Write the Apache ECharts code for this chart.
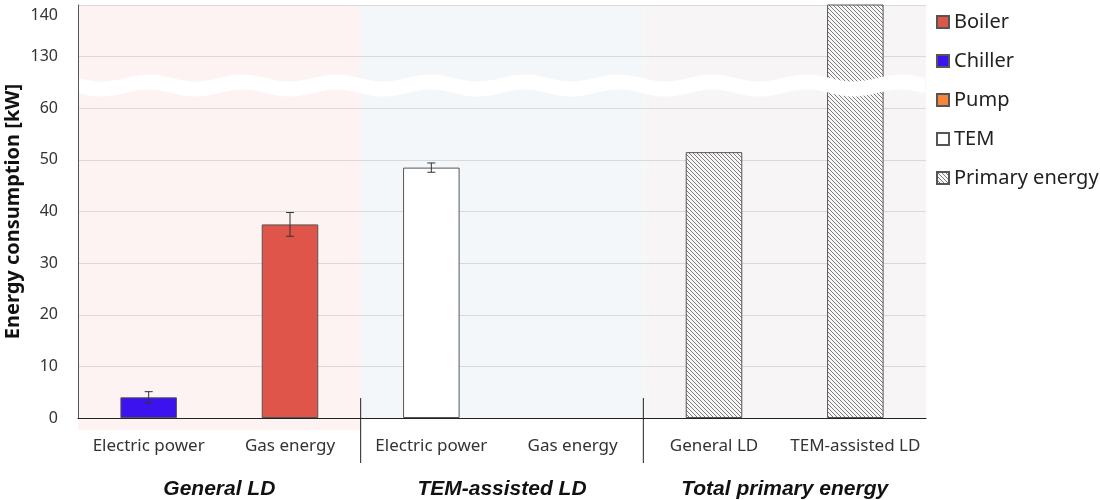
<!DOCTYPE html>
<html>
<head>
<meta charset="utf-8">
<script src="https://cdn.jsdelivr.net/npm/echarts@6/dist/echarts.min.js"></script>
<style>html,body{margin:0;padding:0;background:#fff}#c{width:1100px;height:500px}</style>
</head>
<body>
<div id="c"></div>
<script>
// ---- data ----
const categories = ['Electric power', 'Gas energy', 'Electric power', 'Gas energy', 'General LD', 'TEM-assisted LD'];
const groups = ['General LD', 'TEM-assisted LD', 'Total primary energy'];
const boiler  = ['-', 37.5, '-', '-', '-', '-'];
const chiller = [4.0, '-', '-', '-', '-', '-'];
const pump    = ['-', '-', '-', '-', '-', '-'];
const tem     = ['-', '-', 48.5, '-', '-', '-'];
const primary = ['-', '-', '-', '-', 51.5, 145];
// error bars: [category index, low, high]
const errorBars = [[0, 2.9, 5.1], [1, 35.2, 39.8], [2, 47.6, 49.4]];
// broken axis: values above the break are shifted down by breakShift
const breakShift = 60;
const breakAbove = 100;
const breakCenterDisplay = 64.4;
const yTicksDisplayMax = 80;

function disp(v) { return (v === '-' ? '-' : (v > breakAbove ? v - breakShift : v)); }
function labelOf(v) {
  if (v >= yTicksDisplayMax) return '{top|' + (v + breakShift) + '}';
  return String(v >= 70 ? v + breakShift : v);
}

function hatch() {
  const n = 4, c = document.createElement('canvas');
  c.width = n; c.height = n;
  const ctx = c.getContext('2d');
  ctx.fillStyle = '#f7f7f7'; ctx.fillRect(0, 0, n, n);
  ctx.fillStyle = '#7c7c7c';
  for (let i = 0; i < n; i++) ctx.fillRect(i, i, 1, 1);
  return c;
}

const chart = echarts.init(document.getElementById('c'), null, {renderer: 'canvas'});
const FONT = '"Noto Sans", sans-serif';
const border = {borderColor: '#555', borderWidth: 1};

const bgColors = ['#fcf3f2', '#f3f7fa', '#f8f5f7'];
const bgData = [[0, 1, 12], [2, 3, 0], [4, 5, 0]];

option = {
  animation: false,
  grid: {left: 78, right: 174, top: 5, bottom: 82, containLabel: false, outerBoundsMode: 'none'},
  legend: {
    orient: 'vertical', left: 931, top: 7, itemWidth: 12, itemHeight: 12, itemGap: 19,
    icon: 'rect',
    textStyle: {fontFamily: FONT, fontSize: 20, color: '#222'},
    data: ['Boiler', 'Chiller', 'Pump', 'TEM', 'Primary energy']
  },
  xAxis: [{
    type: 'category', data: categories, boundaryGap: true,
    axisLine: {lineStyle: {color: '#222', width: 1}},
    axisTick: {show: false},
    axisLabel: {fontFamily: FONT, fontSize: 17, color: '#333', margin: 20, interval: 0}
  }, {
    type: 'category', data: groups, boundaryGap: true, position: 'bottom',
    axisLine: {show: false}, axisTick: {show: false},
    axisLabel: {fontFamily: '"Liberation Sans", Arial, sans-serif', fontSize: 21, fontWeight: 'bold',
      fontStyle: 'italic', color: '#111', margin: 61, interval: 0}
  }],
  yAxis: {
    type: 'value', min: 0, max: yTicksDisplayMax, interval: 10,
    name: 'Energy consumption [kW]', nameLocation: 'middle', nameGap: 55, nameMoveOverlap: false,
    nameTextStyle: {fontFamily: FONT, fontSize: 20, fontWeight: 'bold', color: '#111'},
    axisLine: {show: true, lineStyle: {color: '#555'}},
    axisTick: {show: false},
    axisLabel: {fontFamily: FONT, fontSize: 16, color: '#333', margin: 20, formatter: labelOf,
      rich: {top: {fontFamily: FONT, fontSize: 16, color: '#333', padding: [20, 0, 0, 0]}}},
    splitLine: {lineStyle: {color: '#d9d9d9'}}
  },
  series: [
    {
      type: 'custom', name: 'bg', z: -1, silent: true,
      data: bgData, encode: {x: [0, 1]},
      renderItem: function (params, api) {
        const cs = params.coordSys;
        const half = api.size([1, 0])[0] / 2;
        const x0 = api.coord([api.value(0), 0])[0] - half;
        const x1 = api.coord([api.value(1), 0])[0] + half;
        return {type: 'rect', shape: {x: x0, y: cs.y, width: x1 - x0, height: cs.height + api.value(2)},
          style: {fill: bgColors[params.dataIndex]}};
      }
    },
    {name: 'Boiler', type: 'bar', stack: 'a', barWidth: '40%', clip: true, data: boiler.map(disp),
      itemStyle: Object.assign({color: '#e0554a'}, border)},
    {name: 'Chiller', type: 'bar', stack: 'a', barWidth: '40%', clip: true, data: chiller.map(disp),
      itemStyle: Object.assign({color: '#3c12ee'}, border)},
    {name: 'Pump', type: 'bar', stack: 'a', barWidth: '40%', clip: true, data: pump.map(disp),
      itemStyle: Object.assign({color: '#f5873b'}, border)},
    {name: 'TEM', type: 'bar', stack: 'a', barWidth: '40%', clip: true, data: tem.map(disp),
      itemStyle: Object.assign({color: '#ffffff'}, border)},
    {name: 'Primary energy', type: 'bar', stack: 'a', barWidth: '40%', clip: true, data: primary.map(disp),
      itemStyle: Object.assign({color: {image: hatch(), repeat: 'repeat'}}, border)},
    {
      type: 'custom', name: 'err', z: 5, silent: true,
      data: errorBars, encode: {x: 0, y: [1, 2]},
      renderItem: function (params, api) {
        const lo = api.coord([api.value(0), api.value(1)]);
        const hi = api.coord([api.value(0), api.value(2)]);
        const w = 4, st = {stroke: '#333', lineWidth: 1};
        return {type: 'group', children: [
          {type: 'line', shape: {x1: lo[0], y1: lo[1], x2: hi[0], y2: hi[1]}, style: st},
          {type: 'line', shape: {x1: lo[0] - w, y1: lo[1], x2: lo[0] + w, y2: lo[1]}, style: st},
          {type: 'line', shape: {x1: hi[0] - w, y1: hi[1], x2: hi[0] + w, y2: hi[1]}, style: st}
        ]};
      }
    },
    {
      type: 'custom', name: 'decor', z: 6, silent: true,
      data: [[0, breakCenterDisplay]], encode: {x: 0, y: 1},
      renderItem: function (params, api) {
        const cs = params.coordSys;
        const yc = api.coord([0, api.value(1)])[1];
        const half = api.size([1, 0])[0] / 2;
        const y0 = api.coord([0, 0])[1];
        const amp = 3.5, th = 7.5, per = 94;
        const top = [], bot = [];
        for (let x = cs.x + 1; x <= cs.x + cs.width; x += 2) {
          const dy = amp * Math.sin(2 * Math.PI * (x - cs.x) / per);
          top.push([x, yc + dy - th]);
          bot.push([x, yc + dy + th]);
        }
        const pts = top.concat(bot.reverse());
        const sepX = [(api.coord([1, 0])[0] + half), (api.coord([3, 0])[0] + half)];
        const children = [{type: 'polygon', shape: {points: pts}, style: {fill: '#ffffff'}}];
        sepX.forEach(function (x) {
          children.push({type: 'line', shape: {x1: x, y1: y0 - 20, x2: x, y2: y0 + 45}, style: {stroke: '#222', lineWidth: 1}});
        });
        return {type: 'group', children: children};
      }
    }
  ]
};
chart.setOption(option);
</script>
</body>
</html>
